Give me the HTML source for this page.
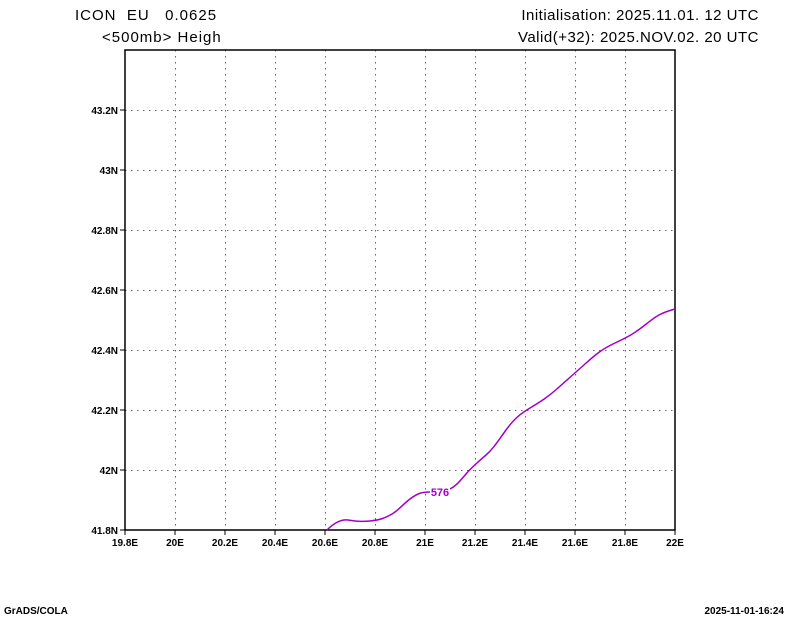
<!DOCTYPE html>
<html><head><style>
body{margin:0;background:#fff;width:800px;height:618px;overflow:hidden}
text{white-space:pre}
</style></head><body>
<svg width="800" height="618" xmlns="http://www.w3.org/2000/svg" font-family="Liberation Sans, sans-serif">
<rect width="800" height="618" fill="#fff"/>
<text x="75" y="20" font-size="15" letter-spacing="1">ICON  EU   0.0625</text>
<text x="102" y="42" font-size="15" letter-spacing="1">&lt;500mb&gt; Heigh</text>
<text x="759" y="20" font-size="15" text-anchor="end" letter-spacing="0.5">Initialisation: 2025.11.01. 12 UTC</text>
<text x="759" y="42" font-size="15" text-anchor="end" letter-spacing="0.5">Valid(+32): 2025.NOV.02. 20 UTC</text>
<g stroke="#666" stroke-width="1" stroke-dasharray="1.5,4.5">
<path d="M175.5 50V530M225.5 50V530M275.5 50V530M325.5 50V530M375.5 50V530M425.5 50V530M475.5 50V530M525.5 50V530M575.5 50V530M625.5 50V530"/>
<path d="M125 110.5H675M125 170.5H675M125 230.5H675M125 290.5H675M125 350.5H675M125 410.5H675M125 470.5H675"/>
</g>
<rect x="125" y="50" width="550" height="480" fill="none" stroke="#000" stroke-width="1.5"/>
<g stroke="#000" stroke-width="1">
<path d="M125 530v5M175 530v5M225 530v5M275 530v5M325 530v5M375 530v5M425 530v5M475 530v5M525 530v5M575 530v5M625 530v5M675 530v5"/>
<path d="M125 530h-5M125 470h-5M125 410h-5M125 350h-5M125 290h-5M125 230h-5M125 170h-5M125 110h-5"/>
</g>
<g font-size="10" font-weight="bold" text-anchor="middle">
<text x="125" y="546">19.8E</text><text x="175" y="546">20E</text><text x="225" y="546">20.2E</text><text x="275" y="546">20.4E</text><text x="325" y="546">20.6E</text><text x="375" y="546">20.8E</text><text x="425" y="546">21E</text><text x="475" y="546">21.2E</text><text x="525" y="546">21.4E</text><text x="575" y="546">21.6E</text><text x="625" y="546">21.8E</text><text x="675" y="546">22E</text>
</g>
<g font-size="10" font-weight="bold" text-anchor="end">
<text x="118" y="534">41.8N</text><text x="118" y="474">42N</text><text x="118" y="414">42.2N</text><text x="118" y="354">42.4N</text><text x="118" y="294">42.6N</text><text x="118" y="234">42.8N</text><text x="118" y="174">43N</text><text x="118" y="114">43.2N</text>
</g>
<path d="M327 530 C333 524,340 519,348 520 S360 522,370 521 S385 518,392 514 S402 505,410 499 S422 492,430 492" fill="none" stroke="#a000c8" stroke-width="1.5"/>
<path d="M450 489 C456 486,460 481,466 474 S478 462,486 455 S498 441,506 430 S520 414,530 408 S548 397,558 388 S575 373,585 364 S602 349,615 343 S635 333,645 325 S660 313,675 309" fill="none" stroke="#a000c8" stroke-width="1.5"/>
<text x="440" y="496" font-size="11" font-weight="bold" fill="#a000c8" text-anchor="middle">576</text>
<text x="4" y="614" font-size="10" font-weight="bold">GrADS/COLA</text>
<text x="784" y="614" font-size="10" font-weight="bold" text-anchor="end">2025-11-01-16:24</text>
</svg>
</body></html>
